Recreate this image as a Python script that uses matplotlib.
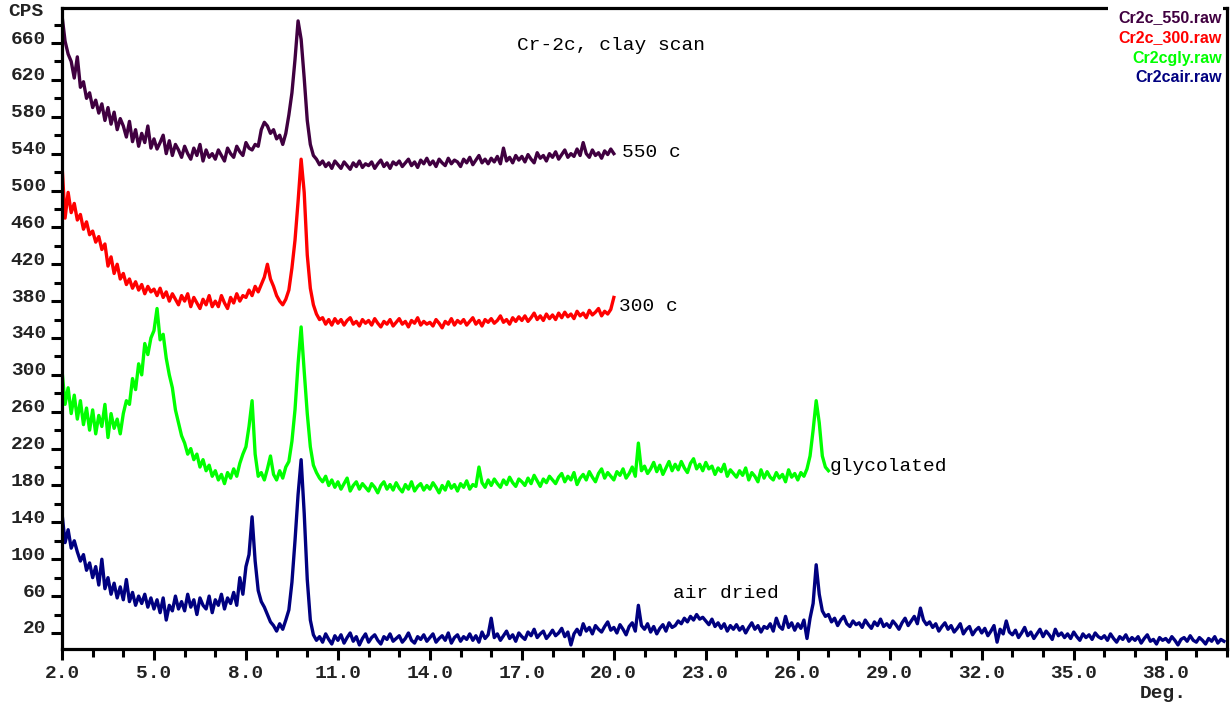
import numpy as np
import matplotlib
matplotlib.use("Agg")
import matplotlib.pyplot as plt
from matplotlib.ticker import MultipleLocator, FixedLocator, FormatStrFormatter
from matplotlib.patches import Rectangle
from matplotlib.transforms import ScaledTranslation

# all four scans start at 2.0 deg with a 0.1 deg step
start_angle = 2.0
step = 0.1

# Cr2c_550.raw  (2.0 - 20.0 deg)
counts_550 = [
    690, 662, 648, 640, 622, 645, 612, 618, 600, 606,
    590, 598, 584, 594, 576, 590, 572, 585, 566, 578,
    570, 558, 575, 553, 566, 548, 562, 552, 570, 546,
    556, 545, 552, 560, 540, 554, 538, 550, 544, 536,
    548, 540, 534, 546, 538, 550, 532, 544, 536, 540,
    534, 544, 538, 532, 546, 540, 536, 548, 542, 538,
    552, 546, 544, 550, 548, 566, 574, 570, 562, 566,
    556, 560, 550, 562, 582, 606, 642, 684, 664, 622,
    576, 550, 538, 534, 528, 532, 526, 530, 524, 532,
    528, 524, 531, 527, 523, 530, 526, 532, 525, 529,
    527, 531, 524, 529, 533, 526, 530, 524, 531, 528,
    532, 526, 530, 534, 527, 531, 525, 533, 529, 535,
    528, 532, 526, 534, 530, 527, 535, 529, 533, 531,
    526, 534, 530, 536, 528, 533, 538, 530, 534, 529,
    535, 531, 537, 529, 546, 532, 536, 530, 538, 533,
    537, 531, 539, 534, 530, 541, 535, 538, 532, 540,
    536, 542, 534, 539, 544, 536, 540, 537, 545, 538,
    552, 540, 536, 544, 538, 541, 535, 543, 539, 545,
    540,
]

# Cr2c_300.raw  (2.0 - 20.0 deg)
counts_300 = [
    528, 470, 498, 476, 486, 468, 474, 458, 466, 452,
    456, 444, 450, 436, 442, 418, 428, 410, 420, 404,
    410, 398, 404, 394, 401, 392, 398, 388, 396, 390,
    393, 386, 394, 384, 390, 380, 388, 382, 376, 386,
    380, 388, 374, 384, 378, 372, 382, 376, 386, 374,
    380, 374, 386, 378, 372, 384, 378, 388, 380, 386,
    384, 392, 386, 396, 390, 398, 406, 420, 404, 396,
    386, 380, 376, 382, 392, 416, 446, 488, 534, 498,
    430, 394, 376, 366, 360, 362, 355, 360, 354, 361,
    356, 360, 354, 359, 362, 355, 358, 353, 360, 356,
    359, 354, 361, 356, 352, 358, 355, 360, 353, 357,
    361, 355, 358, 352, 359, 356, 362, 354, 358, 355,
    357, 353, 360, 356, 351, 358, 355, 361, 354, 359,
    356, 360, 354, 358, 362, 355, 359, 353, 360, 357,
    361, 356, 359, 364, 357, 360, 355, 362, 358, 363,
    359, 364, 358, 362, 367, 360, 364, 359, 366, 361,
    365, 360, 367, 362, 368, 363, 366, 361, 369, 364,
    367, 362, 370, 365, 368, 372, 364, 369, 366, 371,
    384,
]

# Cr2cgly.raw  (2.0 - 27.0 deg)
counts_gly = [
    305, 268, 286, 258, 278, 252, 272, 246, 264, 240,
    262, 236, 256, 244, 268, 232, 258, 242, 252, 236,
    258, 272, 268, 296, 284, 312, 300, 334, 322, 340,
    348, 372, 338, 344, 318, 300, 286, 262, 248, 234,
    226, 214, 220, 208, 214, 200, 208, 196, 202, 190,
    196, 186, 192, 182, 194, 188, 198, 190, 204, 214,
    222, 244, 272, 214, 190, 194, 186, 198, 212, 192,
    186, 196, 188, 200, 206, 228, 262, 312, 352, 304,
    258, 222, 202, 194, 188, 184, 190, 180, 186, 178,
    184, 176, 182, 188, 174, 180, 184, 176, 182, 178,
    174, 182, 178, 172, 180, 184, 176, 181, 175, 183,
    177, 173, 181, 176, 184, 174, 179, 182, 175, 180,
    176, 183, 178, 172, 180, 175, 184, 177, 181, 174,
    182, 178, 185, 176, 181, 179, 200, 183, 178, 186,
    180, 187, 182, 178, 186, 181, 189, 183, 179, 187,
    184, 180, 188, 182, 191, 185, 179, 187, 183, 190,
    186, 182, 189, 193, 184, 190, 186, 194, 181, 188,
    192, 186, 195, 189, 184, 193, 198, 188, 194, 190,
    186, 195, 191, 198, 188, 193, 200, 190, 226, 196,
    201, 193, 198, 205, 195, 202, 192, 199, 206, 196,
    203, 197, 206, 199, 194, 204, 209, 198, 203, 196,
    205, 198, 201, 192, 199, 195, 203, 190, 197, 193,
    189, 196, 191, 199, 186, 194, 190, 184, 197, 188,
    195, 189, 186, 194, 188, 192, 184, 197, 189, 193,
    186, 194, 190, 198, 212, 240, 272, 248, 212, 200,
    196,
]

# Cr2cair.raw  (2.0 - 39.9 deg)
counts_air = [
    150, 118, 132, 112, 120, 108, 98, 105, 88, 96,
    80, 92, 72, 100, 68, 80, 62, 74, 58, 70,
    56, 78, 54, 64, 50, 60, 52, 62, 48, 58,
    46, 56, 42, 58, 34, 50, 44, 60, 46, 54,
    44, 62, 48, 56, 40, 58, 50, 46, 60, 42,
    56, 50, 62, 46, 58, 52, 64, 50, 80, 62,
    92, 105, 146, 98, 66, 54, 48, 40, 32, 28,
    22, 30, 24, 34, 45, 75, 120, 170, 208, 150,
    78, 34, 18, 12, 16, 10, 19, 13, 8, 17,
    12, 18, 9, 15, 20, 11, 16, 7, 14, 19,
    10, 15, 18, 12, 8, 16, 13, 19, 11, 14,
    17, 10, 14, 20, 12, 9, 16, 13, 18, 11,
    15, 19, 10, 14, 17, 12, 20, 9, 15, 18,
    11, 16, 13, 19, 12, 17, 10, 21, 14, 18,
    36, 15, 19, 12, 17, 22, 14, 18, 11, 20,
    16, 13, 21, 17, 24, 15, 19, 22, 14, 18,
    23, 17, 20, 25, 16, 21, 7, 19, 24, 18,
    30, 22, 26, 19, 28, 24, 21, 27, 32, 23,
    26, 20, 29, 24, 18, 27, 31, 22, 50, 28,
    24, 30, 21, 27, 19, 25, 29, 22, 31, 26,
    28, 33, 30, 36, 32, 38, 34, 40, 35, 37,
    33, 29, 35, 27, 31, 25, 30, 22, 28, 24,
    29, 23, 27, 20, 26, 31, 24, 28, 21, 27,
    25, 30, 22, 36, 27, 24, 38, 26, 31, 23,
    30, 25, 34, 14, 36, 52, 94, 62, 44, 38,
    40, 32, 36, 28, 34, 38, 30, 27, 33, 29,
    31, 26, 34, 29, 25, 32, 28, 35, 27, 30,
    26, 33, 29, 24, 31, 36, 28, 33, 38, 30,
    47, 34, 29, 32, 26, 30, 22, 27, 31, 24,
    28, 21, 25, 30, 19, 24, 27, 18, 23, 26,
    20, 25, 17, 22, 28, 10, 24, 19, 33, 21,
    18, 23, 15, 20, 26, 17, 21, 14, 19, 24,
    16, 22, 18, 13, 24, 17, 20, 15, 19, 14,
    21, 16, 12, 19, 15, 18, 13, 20, 16, 14,
    17, 12, 19, 14, 10, 16, 13, 18, 11, 15,
    12, 16, 9, 14, 18, 11, 13, 8, 15, 12,
    14, 10, 16, 12, 7, 13, 15, 11, 17, 12,
    10, 15, 12, 8, 14, 11, 16, 9, 13, 11,
]

scan_names = ["Cr2c_550.raw", "Cr2c_300.raw", "Cr2cgly.raw", "Cr2cair.raw"]
scan_labels = ["550 c", "300 c", "glycolated", "air dried"]
scan_colors = ["#400040", "#ff0000", "#00ff00", "#000080"]
scans = [counts_550, counts_300, counts_gly, counts_air]

mono = ["Liberation Mono", "DejaVu Sans Mono"]


def angles(counts):
    return start_angle + step * np.arange(len(counts))


fig = plt.figure(figsize=(12.31, 7.08), dpi=100)
W, H = 1231, 708
ax = fig.add_axes([62 / W, (H - 649) / H, (1227 - 62) / W, (649 - 8) / H])

for counts, color in zip(scans, scan_colors):
    ax.plot(angles(counts), counts, color=color, lw=2.4)

ax.set_xlim(2.0, 40.0)
ax.set_ylim(2.6, 698)

ax.xaxis.set_major_locator(FixedLocator(np.arange(2, 39, 3)))
ax.xaxis.set_minor_locator(MultipleLocator(1))
ax.xaxis.set_major_formatter(FormatStrFormatter("%.1f"))
ax.set_yticks(np.arange(20, 661, 40))
ax.yaxis.set_minor_locator(MultipleLocator(20))

ax.tick_params(which="major", direction="out", length=8, width=2.2, pad=3.5,
               labelsize=14)
ax.tick_params(which="minor", direction="out", length=5.5, width=2.2)
ax.tick_params(top=False, right=False)
for lab in ax.get_xticklabels() + ax.get_yticklabels():
    lab.set_family(mono)
    lab.set_fontweight("bold")
    lab.set_color("#222222")
for lab in ax.get_yticklabels():
    lab.set_transform(lab.get_transform() + ScaledTranslation(0, 0.06, fig.dpi_scale_trans))

for sp in ax.spines.values():
    sp.set_linewidth(2.3)
    sp.set_color("black")

# curve labels, placed at the end of each scan
ax.text(20.26, 541, scan_labels[0], family=mono, fontsize=14, va="center", ha="left")
ax.text(20.17, 374, scan_labels[1], family=mono, fontsize=14, va="center", ha="left")
ax.text(27.05, 201, scan_labels[2], family=mono, fontsize=14, va="center", ha="left")
ax.text(21.93, 63, scan_labels[3], family=mono, fontsize=14, va="center", ha="left")
ax.text(16.84, 657, "Cr-2c, clay scan", family=mono, fontsize=14, va="center", ha="left")

fig.text(8 / W, 1 - 12 / H, "CPS", family=mono, fontweight="bold", fontsize=14,
         va="center", ha="left", color="#222222")
fig.text(1140 / W, 1 - 693 / H, "Deg.", family=mono, fontweight="bold", fontsize=14,
         va="center", ha="left", color="#222222")

# file-name legend in the top right corner, on a white patch over the frame
fig.patches.append(Rectangle((1108 / W, 1 - 88 / H), (1223 - 1108) / W, 88 / H,
                             transform=fig.transFigure, facecolor="white",
                             edgecolor="none", zorder=5))
for i, (name, color) in enumerate(zip(scan_names, scan_colors)):
    fig.text(1222 / W, 1 - (18 + 20 * i) / H, name, color=color, fontsize=11.5,
             fontweight="bold", family=["Liberation Sans", "DejaVu Sans"],
             ha="right", va="center", zorder=6)

fig.savefig("out.png", dpi=100)
